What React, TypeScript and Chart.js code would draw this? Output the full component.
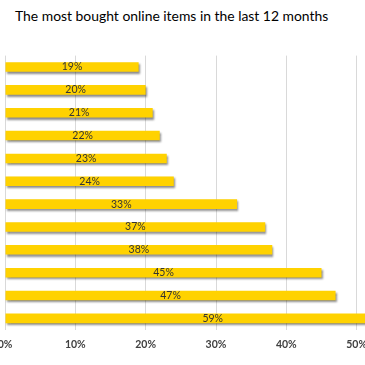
import React, { useEffect, useRef } from "react";
import { Chart, registerables } from "chart.js";

Chart.register(...registerables);

const TITLE = "The most bought online items in the last 12 months";
const categories = [
  "Item 12",
  "Item 11",
  "Item 10",
  "Item 9",
  "Item 8",
  "Item 7",
  "Item 6",
  "Item 5",
  "Item 4",
  "Item 3",
  "Item 2",
  "Item 1",
];
const shares = [0.19, 0.2, 0.21, 0.22, 0.23, 0.24, 0.33, 0.37, 0.38, 0.45, 0.47, 0.59];
const tickValues = [0, 0.1, 0.2, 0.3, 0.4, 0.5, 0.6];

const pct = (v: number) => `${Math.round(v * 100)}%`;

const shadowPlugin = {
  id: "barShadow",
  beforeDatasetsDraw(chart: any) {
    const ctx = chart.ctx;
    ctx.save();
    ctx.shadowColor = "rgba(0,0,0,0.45)";
    ctx.shadowOffsetX = 1;
    ctx.shadowOffsetY = 2;
    ctx.shadowBlur = 2;
  },
  afterDatasetsDraw(chart: any) {
    const ctx = chart.ctx;
    ctx.restore();
    const meta = chart.getDatasetMeta(0);
    ctx.save();
    ctx.font = "10.5px Lato, 'Liberation Sans', sans-serif";
    ctx.fillStyle = "#333333";
    ctx.textAlign = "center";
    ctx.textBaseline = "middle";
    meta.data.forEach((bar: any, i: number) => {
      const x = (bar.x + bar.base) / 2;
      ctx.fillText(pct(shares[i]), x, bar.y);
    });
    ctx.restore();
  },
};

export default function App() {
  const ref = useRef<HTMLCanvasElement | null>(null);

  useEffect(() => {
    if (!ref.current) return;
    const ctx2d = ref.current.getContext("2d")!;
    const chart = new Chart(ctx2d, {
      type: "bar",
      data: {
        labels: categories,
        datasets: [
          {
            data: shares,
            backgroundColor: (c: any) => {
              const el = c.chart.getDatasetMeta(0).data[c.dataIndex] as any;
              if (!el || el.height == null) return "#FFD200";
              const g = c.chart.ctx.createLinearGradient(0, el.y - el.height / 2, 0, el.y + el.height / 2);
              g.addColorStop(0, "#FFE45C");
              g.addColorStop(0.35, "#FFD300");
              g.addColorStop(1, "#F2C200");
              return g;
            },
            borderWidth: 0,
            categoryPercentage: 1,
            barPercentage: 0.42,
          },
        ],
      },
      options: {
        indexAxis: "y",
        animation: false,
        responsive: true,
        maintainAspectRatio: false,
        layout: { autoPadding: false, padding: { top: 55.6, bottom: 4.6, left: 5, right: 13 } },
        plugins: {
          legend: { display: false },
          tooltip: { enabled: false },
          title: { display: false },
        },
        scales: {
          x: {
            min: 0,
            max: 0.6,
            afterBuildTicks: (axis: any) => {
              axis.ticks = tickValues.map((v) => ({ value: v }));
            },
            afterFit: (axis: any) => {
              axis.paddingLeft = 0;
              axis.paddingRight = 0;
            },
            grid: { color: "#d9d9d9", lineWidth: 1, drawTicks: false },
            border: { display: false },
            ticks: {
              padding: 9,
              color: "#404040",
              font: { family: "Lato, 'Liberation Sans', sans-serif", size: 10.5, weight: "bold" },
              callback: (v: any) => pct(Number(v)),
            },
          },
          y: {
            display: false,
            grid: { display: false },
          },
        },
      },
      plugins: [shadowPlugin],
    });
    return () => chart.destroy();
  }, []);

  return (
    <div
      style={{
        position: "absolute",
        left: 0,
        top: 0,
        width: 365,
        height: 365,
        overflow: "hidden",
        background: "#fff",
      }}
    >
      <div
        style={{
          position: "absolute",
          left: 15,
          top: 6,
          fontFamily: "Lato, 'Liberation Sans', sans-serif",
          fontSize: 13.9,
          color: "#000",
          whiteSpace: "nowrap",
          lineHeight: "20px",
        }}
      >
        {TITLE}
      </div>
      <div style={{ position: "absolute", left: 0, top: 0, width: 440, height: 365 }}>
        <canvas ref={ref} />
      </div>
    </div>
  );
}
